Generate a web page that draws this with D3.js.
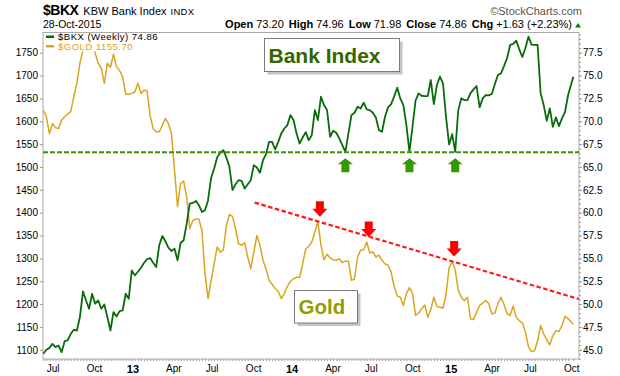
<!DOCTYPE html>
<html>
<head>
<meta charset="utf-8">
<script src="https://cdn.jsdelivr.net/npm/d3@7"></script>
<style>
  body { margin: 0; background: #fff; }
  text { font-family: "Liberation Sans", Arial, sans-serif; }
</style>
</head>
<body>
<svg id="chart" width="620" height="376"></svg>
<script>
// weekly closes, first bar 29-Jun-2012, last bar 28-Oct-2015
const startDate = new Date(2012, 5, 29);
const lastDate = new Date(2015, 9, 28);
const axisEnd = new Date(2015, 10, 10);

const bkx = [
  44.56, 45.00, 45.21, 45.65, 45.29, 45.47, 44.74, 45.94, 46.02, 46.75,
  47.19, 47.11, 48.58, 51.40, 50.40, 49.49, 51.13, 50.04, 50.40, 49.49,
  49.96, 48.58, 47.11, 49.12, 48.65, 49.23, 49.30, 51.13, 50.58, 53.69,
  53.14, 53.54, 53.98, 54.49, 54.93, 55.04, 54.53, 54.05, 56.43, 57.45,
  56.90, 56.17, 55.81, 56.06, 54.78, 56.68, 56.98, 58.80, 61.00, 61.07,
  61.29, 60.81, 60.08, 60.26, 61.36, 63.80, 64.83, 66.07, 66.55, 66.84,
  66.04, 65.01, 62.46, 63.11, 63.55, 63.48, 62.64, 63.11, 63.55, 65.20,
  64.94, 64.36, 65.74, 66.40, 67.75, 67.75, 66.91, 67.75, 68.67, 69.21,
  69.58, 70.67, 70.13, 68.67, 67.57, 68.23, 68.81, 67.94, 68.48, 71.22,
  70.13, 72.68, 71.77, 71.22, 68.30, 68.96, 68.74, 68.12, 67.39, 66.65,
  68.67, 70.67, 70.93, 71.59, 71.40, 72.03, 71.30, 71.22, 70.93, 70.42,
  69.03, 68.85, 70.49, 71.52, 71.88, 72.72, 73.67, 72.50, 71.77, 69.58,
  66.65, 69.40, 72.25, 73.05, 72.79, 72.76, 72.76, 74.51, 71.88, 73.96,
  74.88, 74.15, 70.42, 67.46, 68.59, 66.65, 71.22, 72.50, 72.32, 72.32,
  73.05, 73.49, 73.85, 71.51, 72.50, 72.87, 72.83, 72.98, 74.07, 75.06,
  75.24, 76.04, 76.90, 78.35, 78.46, 78.82, 77.87, 77.03, 77.98, 79.26,
  78.38, 78.35, 78.35, 73.05, 71.77, 70.05, 71.40, 69.40, 70.42, 69.47,
  70.31, 71.04, 72.87, 74.86
];

const gold = [
  1624, 1610, 1573, 1595, 1586, 1584, 1602, 1610, 1616, 1621,
  1654, 1683, 1727, 1756, 1785, 1789, 1778, 1749, 1727, 1716,
  1683, 1727, 1718, 1747, 1719, 1711, 1697, 1659, 1659, 1661,
  1664, 1683, 1661, 1668, 1667, 1613, 1584, 1577, 1577, 1591,
  1606, 1595, 1573, 1493, 1413, 1464, 1469, 1434, 1365, 1383,
  1386, 1386, 1361, 1266, 1212, 1252, 1288, 1325, 1314, 1318,
  1372, 1396, 1392, 1365, 1332, 1329, 1334, 1303, 1277, 1314,
  1350, 1329, 1296, 1277, 1252, 1243, 1234, 1228, 1212, 1223,
  1239, 1250, 1255, 1259, 1258, 1288, 1321, 1326, 1336, 1358,
  1380, 1329, 1297, 1309, 1301, 1297, 1296, 1299, 1291, 1294,
  1294, 1252, 1255, 1303, 1318, 1319, 1336, 1312, 1314, 1303,
  1307, 1296, 1288, 1285, 1270, 1238, 1218, 1215, 1197, 1223,
  1236, 1224, 1175, 1180, 1190, 1198, 1171, 1188, 1215, 1195,
  1193, 1191, 1221, 1280, 1293, 1275, 1230, 1215, 1207, 1215,
  1168, 1166, 1182, 1197, 1202, 1208, 1201, 1179, 1180, 1201,
  1215, 1199, 1179, 1175, 1196, 1171, 1164, 1159, 1139, 1107,
  1096, 1098, 1120, 1153, 1135, 1122, 1111, 1131, 1142, 1140,
  1153, 1173, 1168, 1155.7
];

const goldTicks = [1100, 1150, 1200, 1250, 1300, 1350, 1400, 1450, 1500, 1550, 1600, 1650, 1700, 1750];
const bkxTicks = [45, 47.5, 50, 52.5, 55, 57.5, 60, 62.5, 65, 67.5, 70, 72.5, 75, 77.5];
const monthTicks = ["2012-07-01", "2012-10-01", "2013-01-01", "2013-04-01", "2013-07-01", "2013-10-01",
  "2014-01-01", "2014-04-01", "2014-07-01", "2014-10-01", "2015-01-01", "2015-04-01", "2015-07-01", "2015-10-01"];
const monthLabels = ["Jul", "Oct", "13", "Apr", "Jul", "Oct", "14", "Apr", "Jul", "Oct", "15", "Apr", "Jul", "Oct"];

// annotations
const supportLevel = 66.62;
const supportLows = [99, 120, 135];   // week index of the BKX lows
const goldPeaks = [90, 106, 134];     // week index of the gold peaks
const trendDates = [new Date(2013, 9, 27), axisEnd];
const trendValues = [1422, 1211];

const dates = bkx.map((d, i) => i === bkx.length - 1 ? lastDate : d3.timeWeek.offset(startDate, i));

const svg = d3.select("#chart");
const plotLeft = 43, plotRight = 579, plotTop = 32.5, plotBottom = 359;

const x = d3.scaleTime().domain([startDate, axisEnd]).range([43.3, plotRight]);
const yGold = d3.scaleLinear().domain([1100, 1750]).range([349.8, 52.7]);
const yBkx = d3.scaleLinear().domain([45, 77.5]).range([349.8, 52.7]);

// header
const head = svg.append("g");
const t1 = head.append("text").attr("x", 43).attr("y", 15).attr("fill", "#000");
t1.append("tspan").attr("font-size", 14).attr("font-weight", "bold").attr("letter-spacing", -0.5).text("$BKX");
t1.append("tspan").attr("font-size", 11).attr("dx", 5).text("KBW Bank Index");
t1.append("tspan").attr("font-size", 9.5).attr("dx", 4).attr("letter-spacing", 0.3).text("INDX");
head.append("text").attr("x", 43).attr("y", 27.5).attr("font-size", 10.5).text("28-Oct-2015");
head.append("text").attr("x", 582).attr("y", 14.5).attr("font-size", 11).attr("text-anchor", "end")
  .attr("fill", "#555").text("\u00A9StockCharts.com");

const quote = [["Open", "73.20"], ["High", "74.96"], ["Low", "71.98"], ["Close", "74.86"], ["Chg", "+1.63 (+2.23%)"]];
const qt = head.append("text").attr("x", 572).attr("y", 27.5).attr("font-size", 11).attr("text-anchor", "end");
quote.forEach((q, i) => {
  qt.append("tspan").attr("font-weight", "bold").attr("dx", i ? 5 : 0).text(q[0]);
  qt.append("tspan").attr("dx", 3).text(q[1]);
});
head.append("path").attr("d", "M575,27.5 L581,27.5 L578,23 Z").attr("fill", "#008000");

// plot frame
svg.append("rect").attr("x", plotLeft).attr("y", plotTop)
  .attr("width", plotRight - plotLeft).attr("height", plotBottom - plotTop)
  .attr("fill", "none").attr("stroke", "#aaa");

svg.append("clipPath").attr("id", "plot").append("rect")
  .attr("x", plotLeft).attr("y", plotTop).attr("width", plotRight - plotLeft).attr("height", plotBottom - plotTop);

// axes
const axisStyle = g => {
  g.select(".domain").remove();
  g.selectAll(".tick line").attr("stroke", "#999");
  g.selectAll("text").attr("font-family", "Liberation Sans, Arial, sans-serif").attr("font-size", 10).attr("fill", "#000");
};
svg.append("g").attr("transform", `translate(${plotLeft},0)`)
  .call(d3.axisLeft(yGold).tickValues(goldTicks).tickSize(3).tickPadding(2).tickFormat(d3.format("d")))
  .call(axisStyle);
svg.append("g").attr("transform", `translate(${plotRight},0)`)
  .call(d3.axisRight(yBkx).tickValues(d3.range(44, 79.6, 0.5)).tickSize(2).tickFormat(""))
  .call(axisStyle);
svg.append("g").attr("transform", `translate(${plotRight},0)`)
  .call(d3.axisRight(yBkx).tickValues(bkxTicks).tickSize(3).tickPadding(1).tickFormat(d3.format(".1f")))
  .call(axisStyle);
svg.append("g").attr("transform", `translate(0,${plotBottom})`)
  .call(d3.axisBottom(x).tickValues(dates).tickSize(2).tickFormat(""))
  .call(axisStyle);
const monthDates = monthTicks.map(d => d3.timeParse("%Y-%m-%d")(d));
svg.append("g").attr("transform", `translate(0,${plotBottom})`)
  .call(d3.axisBottom(x).tickValues(monthDates).tickSize(0).tickPadding(6)
    .tickFormat((d, i) => monthLabels[i]))
  .call(axisStyle)
  .call(g => g.selectAll("text").attr("text-anchor", "start").attr("dx", 2)
    .attr("font-size", (d, i) => /^\d/.test(monthLabels[i]) ? 11 : 10)
    .attr("font-weight", (d, i) => /^\d/.test(monthLabels[i]) ? "bold" : "normal"));

// series
const plot = svg.append("g").attr("clip-path", "url(#plot)");
plot.append("path").datum(gold)
  .attr("d", d3.line().x((d, i) => x(dates[i])).y(d => yGold(d)))
  .attr("fill", "none").attr("stroke", "#daa520").attr("stroke-width", 1.5).attr("stroke-linejoin", "round");
plot.append("path").datum(bkx)
  .attr("d", d3.line().x((d, i) => x(dates[i])).y(d => yBkx(d)))
  .attr("fill", "none").attr("stroke", "#0a6b0a").attr("stroke-width", 1.8).attr("stroke-linejoin", "round");

// support line and arrows
plot.append("line").attr("x1", plotLeft).attr("x2", plotRight)
  .attr("y1", yBkx(supportLevel)).attr("y2", yBkx(supportLevel))
  .attr("stroke", "#339900").attr("stroke-width", 2).attr("stroke-dasharray", "5,2");

const upArrow = "M0,0 L7.5,6 L4,6 L4,14 L-4,14 L-4,6 L-7.5,6 Z";
plot.selectAll(".up").data(supportLows).enter().append("path")
  .attr("transform", i => `translate(${x(dates[i])},${yBkx(supportLevel) + 6})`)
  .attr("d", upArrow).attr("fill", "#339900");

// gold trend line and arrows
plot.append("line")
  .attr("x1", x(trendDates[0])).attr("y1", yGold(trendValues[0]))
  .attr("x2", x(trendDates[1])).attr("y2", yGold(trendValues[1]))
  .attr("stroke", "#ff1a1a").attr("stroke-width", 2.2).attr("stroke-dasharray", "4.5,2.5");

const downArrow = "M0,0 L7.5,-8 L4,-8 L4,-15.5 L-4,-15.5 L-4,-8 L-7.5,-8 Z";
plot.selectAll(".down").data(goldPeaks).enter().append("path")
  .attr("transform", i => `translate(${x(dates[i]) + 2},${yGold(gold[i]) - 5})`)
  .attr("d", downArrow).attr("fill", "#ff0000");

// labels in boxes
function boxLabel(bx, by, bw, bh, label, color, size) {
  svg.append("rect").attr("x", bx + 3).attr("y", by + 3).attr("width", bw).attr("height", bh).attr("fill", "#c4c4c4");
  svg.append("rect").attr("x", bx).attr("y", by).attr("width", bw).attr("height", bh)
    .attr("fill", "#fff").attr("stroke", "#7a7a7a");
  svg.append("text").attr("x", bx + 4).attr("y", by + bh - 9).attr("font-size", size).attr("font-weight", "bold")
    .attr("fill", color).text(label);
}
boxLabel(264.5, 38.5, 135, 33, "Bank Index", "#336600", 21);
boxLabel(294.5, 290.5, 63, 32.5, "Gold", "#999900", 20.5);

// legend
const legend = svg.append("g");
legend.append("rect").attr("x", plotLeft + 1).attr("y", plotTop + 1).attr("width", 135).attr("height", 18).attr("fill", "#fff");
const items = [["$BKX (Weekly) 74.86", "#0a6b0a", "#000"], ["$GOLD 1155.70", "#daa520", "#daa520"]];
items.forEach((it, i) => {
  const yy = 40 + i * 9.5;
  legend.append("rect").attr("x", 46).attr("y", yy - 4.5).attr("width", 8).attr("height", 2.5).attr("fill", it[1]);
  legend.append("text").attr("x", 58).attr("y", yy).attr("font-family", "DejaVu Sans, sans-serif")
    .attr("font-size", 9.6).attr("letter-spacing", 0.45).attr("fill", it[2]).text(it[0]);
});
</script>
</body>
</html>
